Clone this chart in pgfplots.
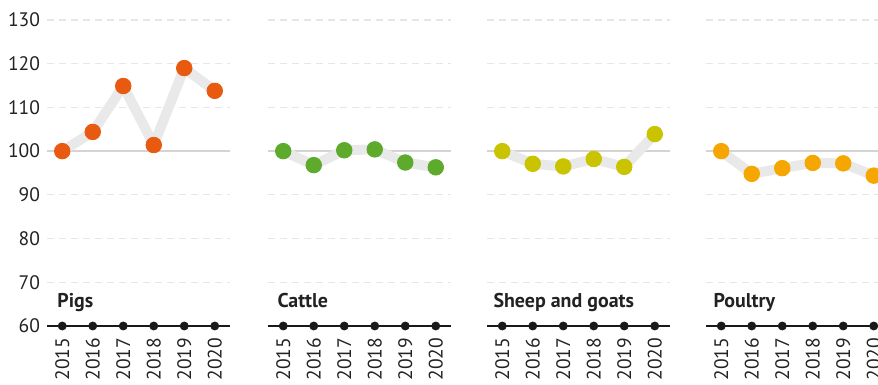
\documentclass[border=0pt]{standalone}
\usepackage{pgfplots}
\pgfplotsset{compat=1.18}
\usepackage{fontspec}
\setmainfont{PT Sans}

\definecolor{pigc}{HTML}{E85A0F}
\definecolor{cattlec}{HTML}{5DAA2D}
\definecolor{sheepc}{HTML}{C9C300}
\definecolor{poultryc}{HTML}{F6A600}
\definecolor{trail}{HTML}{E9E9E9}
\definecolor{gridc}{HTML}{E6E6E6}
\definecolor{txt}{HTML}{222222}

\pgfplotsset{
  panel/.style={
    scale only axis, width=91.5bp, height=153bp,
    xmin=-0.5, xmax=5.5, ymin=60, ymax=130,
    axis line style={draw=none},
    xtick={0,...,5}, xticklabels={2015,2016,2017,2018,2019,2020},
    ytick={60,70,...,130},
    major tick length=0pt,
    ymajorgrids,
    grid style={gridc, line width=0.6bp, dash pattern=on 3.5bp off 2.5bp},
    xticklabel style={rotate=90, anchor=east, text=txt},
    xticklabel shift=2.5bp,
    yticklabel style={text=txt},
    clip=false,
    /pgf/number format/assume math mode=true,
    font=\fontsize{9.8}{11}\selectfont,
    ticklabel style={font=\fontsize{9.8}{11}\selectfont},
  },
  trailline/.style={draw=trail, line width=5bp, line join=round, line cap=round, mark=none},
  dots/.style={only marks, mark=*, mark size=3.9bp, draw=#1, fill=#1},
}

% reference line at 100, baseline with year dots, panel title
\newcommand{\panelextras}[2]{%
  \draw[color=black!17, line width=1bp] (axis cs:-0.5,100) -- (axis cs:5.5,100);
  \draw[color=black!90, line width=0.9bp] (axis cs:-0.5,60) -- (axis cs:5.5,60);
  \addplot[only marks, mark=*, mark size=2bp, black!90] coordinates {(0,60) (1,60) (2,60) (3,60) (4,60) (5,60)};
  \node[anchor=base west, inner sep=0pt, font=\fontsize{10}{12}\selectfont\bfseries, text=txt] at (axis cs:#2,64.3) {#1};
}

\begin{document}
\begin{tikzpicture}
\path[use as bounding box] (-23.5bp,-29.5bp) rectangle (415.5bp,163bp);

\begin{axis}[panel]
  \panelextras{Pigs}{-0.17}
  \addplot[trailline] coordinates {(0,100) (1,104.4) (2,114.9) (3,101.4) (4,119.0) (5,113.8)};
  \addplot[dots=pigc] coordinates {(0,100) (1,104.4) (2,114.9) (3,101.4) (4,119.0) (5,113.8)};
\end{axis}

\begin{axis}[panel, at={(110.5bp,0)}, yticklabels={}]
  \panelextras{Cattle}{-0.2}
  \addplot[trailline] coordinates {(0,100) (1,96.8) (2,100.2) (3,100.4) (4,97.4) (5,96.3)};
  \addplot[dots=cattlec] coordinates {(0,100) (1,96.8) (2,100.2) (3,100.4) (4,97.4) (5,96.3)};
\end{axis}

\begin{axis}[panel, at={(220bp,0)}, yticklabels={}]
  \panelextras{Sheep and goats}{-0.3}
  \addplot[trailline] coordinates {(0,100) (1,97.1) (2,96.5) (3,98.2) (4,96.4) (5,103.9)};
  \addplot[dots=sheepc] coordinates {(0,100) (1,97.1) (2,96.5) (3,98.2) (4,96.4) (5,103.9)};
\end{axis}

\begin{axis}[panel, at={(329.5bp,0)}, yticklabels={}]
  \panelextras{Poultry}{-0.26}
  \addplot[trailline] coordinates {(0,100) (1,94.8) (2,96.1) (3,97.3) (4,97.2) (5,94.4)};
  \addplot[dots=poultryc] coordinates {(0,100) (1,94.8) (2,96.1) (3,97.3) (4,97.2) (5,94.4)};
\end{axis}
\end{tikzpicture}
\end{document}
